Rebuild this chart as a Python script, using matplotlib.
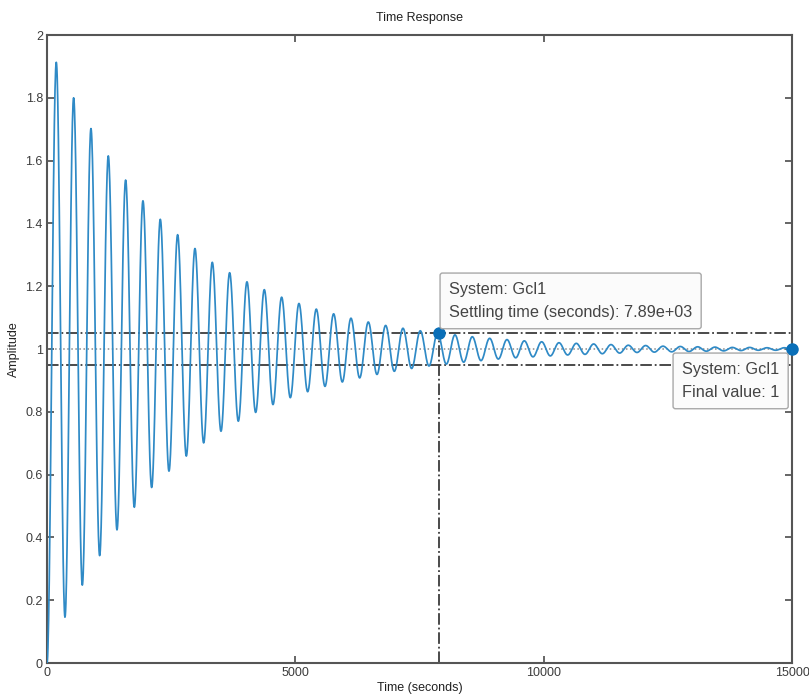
import numpy as np
import matplotlib
matplotlib.use('Agg')
import matplotlib.pyplot as plt

plt.rcParams['font.family'] = ['Liberation Sans', 'DejaVu Sans']

PEAK_TIMES = [187, 536, 885, 1234, 1583, 1932, 2281, 2630, 2979, 3328, 3677,
              4026, 4375, 4724, 5073, 5422, 5771, 6120, 6469, 6818, 7167, 7516,
              7865, 8214, 8563, 8912, 9261, 9610, 9959, 10308, 10657, 11006,
              11355, 11704, 12053, 12402, 12751, 13100, 13449, 13798, 14147,
              14496, 14845]
PEAK_VALUES = [1.913, 1.800, 1.702, 1.615, 1.538, 1.472, 1.413, 1.364, 1.320,
               1.276, 1.243, 1.214, 1.189, 1.165, 1.145, 1.127, 1.112, 1.098,
               1.086, 1.075, 1.066, 1.058, 1.051, 1.045, 1.039, 1.034, 1.030,
               1.026, 1.023, 1.020, 1.018, 1.016, 1.014, 1.012, 1.011, 1.009,
               1.008, 1.007, 1.006, 1.005, 1.005, 1.004, 1.004]
TROUGH_TIMES = [362, 711, 1060, 1409, 1758, 2107, 2456, 2805, 3154, 3503, 3852,
                4201, 4550, 4899, 5248, 5597, 5946, 6295, 6644, 6993, 7342,
                7691, 8040, 8389, 8738, 9087, 9436, 9785, 10134, 10483, 10832,
                11181, 11530, 11879, 12228, 12577, 12926, 13275, 13624, 13973,
                14322, 14671, 15020]
TROUGH_VALUES = [0.146, 0.248, 0.342, 0.424, 0.496, 0.559, 0.611, 0.659, 0.701,
                 0.738, 0.770, 0.798, 0.823, 0.845, 0.864, 0.881, 0.895, 0.908,
                 0.919, 0.929, 0.938, 0.946, 0.952, 0.958, 0.963, 0.968, 0.972,
                 0.975, 0.978, 0.981, 0.983, 0.985, 0.987, 0.989, 0.990, 0.991,
                 0.992, 0.993, 0.994, 0.995, 0.996, 0.996, 0.996]

FINAL_VALUE = 1.0
SETTLING_TIME = 7890
SETTLING_VALUE = 1.05
BAND = [0.95, 1.05]
T_END = 15000

LINE_BLUE = '#2f8ac6'
MARK_BLUE = '#0a6fb8'
DARK = '#3c3c3c'


def build_curve():
    """Join the extrema with half-cosine arcs (zero slope at each turn)."""
    knots_t = [0]
    knots_y = [0.0]
    for i in range(len(PEAK_TIMES)):
        knots_t.append(PEAK_TIMES[i])
        knots_y.append(PEAK_VALUES[i])
        if i < len(TROUGH_TIMES):
            knots_t.append(TROUGH_TIMES[i])
            knots_y.append(TROUGH_VALUES[i])
    ts, ys = [], []
    s = np.linspace(0, 1, 30)
    for a in range(len(knots_t) - 1):
        t0, t1 = knots_t[a], knots_t[a + 1]
        y0, y1 = knots_y[a], knots_y[a + 1]
        ts.append(t0 + (t1 - t0) * s)
        ys.append(y0 + (y1 - y0) * (1 - np.cos(np.pi * s)) / 2)
    return np.concatenate(ts), np.concatenate(ys)


fig = plt.figure(figsize=(8.09, 6.98), dpi=100)
ax = fig.add_axes([47 / 809, 35 / 698, 745 / 809, 628 / 698])

t, y = build_curve()
ax.plot(t, y, color=LINE_BLUE, linewidth=1.25, zorder=3)

# settling band and final value
for b in BAND:
    ax.plot([0, T_END], [b, b], color=DARK, linestyle='-.', linewidth=1.3,
            zorder=2)
ax.plot([0, T_END], [FINAL_VALUE, FINAL_VALUE], color='#8a8a8a',
        linestyle=':', linewidth=1.1, zorder=2)
ax.plot([SETTLING_TIME, SETTLING_TIME], [0, SETTLING_VALUE], color=DARK,
        linestyle='-.', linewidth=1.3, zorder=2)

ax.plot([SETTLING_TIME], [SETTLING_VALUE], 'o', color=MARK_BLUE,
        markersize=8, zorder=5, clip_on=False)
ax.plot([T_END], [FINAL_VALUE], 'o', color=MARK_BLUE, markersize=8,
        zorder=5, clip_on=False)

box = dict(boxstyle='round,pad=0.55,rounding_size=0.15', facecolor='#fbfbfb',
           edgecolor='#a8a8a8', linewidth=1.0)
fig.text(449 / 809, 1 - 282 / 698,
         'System: Gcl1\nSettling time (seconds): 7.89e+03',
         fontsize=11.7, color='#444444', ha='left', va='top',
         linespacing=1.65, bbox=box, zorder=6)
fig.text(682 / 809, 1 - 362 / 698,
         'System: Gcl1\nFinal value: 1',
         fontsize=11.7, color='#444444', ha='left', va='top',
         linespacing=1.65, bbox=box, zorder=6)

ax.set_xlim(0, T_END)
ax.set_ylim(0, 2)
ax.set_xticks([0, 5000, 10000, 15000])
ax.set_yticks(np.arange(0, 2.01, 0.2))
ax.set_yticklabels(['0', '0.2', '0.4', '0.6', '0.8', '1', '1.2', '1.4',
                    '1.6', '1.8', '2'])
ax.tick_params(direction='in', length=5, width=1.1, top=True, right=True,
               labelsize=9, colors=DARK, pad=3)
for sp in ax.spines.values():
    sp.set_color('#555555')
    sp.set_linewidth(1.5)

ax.set_title('Time Response', fontsize=9, color='#222222', pad=10)
ax.set_xlabel('Time (seconds)', fontsize=9, color='#222222', labelpad=2)
ax.set_ylabel('Amplitude', fontsize=9, color='#222222', labelpad=4)

fig.savefig('out.png', dpi=100)
